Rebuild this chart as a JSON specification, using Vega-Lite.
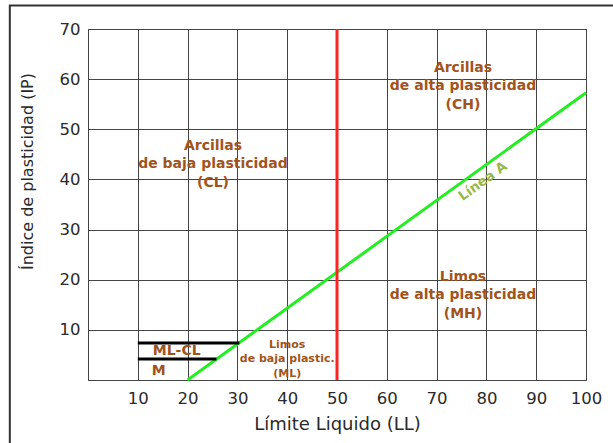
{
  "$schema": "https://vega.github.io/schema/vega-lite/v6.json",
  "width": 498,
  "height": 351,
  "autosize": {"type": "none"},
  "padding": {"left": 88, "top": 29, "right": 27, "bottom": 63},
  "background": "white",
  "config": {
    "font": "DejaVu Sans",
    "view": {"stroke": "#555", "strokeWidth": 1},
    "axis": {"grid": true, "gridColor": "#444", "gridOpacity": 1, "gridWidth": 1, "ticks": false, "domain": false, "labelFont": "DejaVu Sans", "labelFontSize": 16.5, "labelColor": "#2a2a2a", "labelFlush": false, "titleFont": "DejaVu Sans", "titleFontWeight": "normal", "titleColor": "#2a2a2a"}
  },
  "datasets": {
    "lineA": [{"LL": 20, "IP": 0}, {"LL": 100, "IP": 57.3}],
    "mlcl": [
      {"y": 7.4, "x1": 10, "x2": 30.4},
      {"y": 4.2, "x1": 10, "x2": 25.8}
    ],
    "labels": [
      {"x": 25.1, "y": 46.6, "t": "Arcillas"},
      {"x": 25.1, "y": 43.0, "t": "de baja plasticidad"},
      {"x": 25.1, "y": 39.3, "t": "(CL)"},
      {"x": 75.3, "y": 62.3, "t": "Arcillas"},
      {"x": 75.3, "y": 58.6, "t": "de alta plasticidad"},
      {"x": 75.3, "y": 54.9, "t": "(CH)"},
      {"x": 75.3, "y": 20.6, "t": "Limos"},
      {"x": 75.3, "y": 16.9, "t": "de alta plasticidad"},
      {"x": 75.3, "y": 13.2, "t": "(MH)"},
      {"x": 17.8, "y": 5.8, "t": "ML-CL"},
      {"x": 14.2, "y": 1.8, "t": "M"}
    ],
    "small": [
      {"x": 40, "y": 7.0, "t": "Limos"},
      {"x": 40, "y": 4.2, "t": "de baja plastic."},
      {"x": 40, "y": 1.2, "t": "(ML)"}
    ],
    "lineLabel": [{"x": 79.3, "y": 39.6, "t": "Línea A"}]
  },
  "layer": [
    {
      "data": {"values": [{"a": 1}]},
      "mark": {"type": "rect", "fill": null, "stroke": "#333", "strokeWidth": 2, "clip": false},
      "encoding": {
        "x": {"datum": -15.7, "type": "quantitative", "scale": {"domain": [0, 100], "nice": false}},
        "x2": {"datum": 140},
        "y": {"datum": 74.7, "type": "quantitative", "scale": {"domain": [0, 70], "nice": false}},
        "y2": {"datum": -40}
      }
    },
    {
      "data": {"name": "lineA"},
      "mark": {"type": "line", "color": "#22ee22", "strokeWidth": 3},
      "encoding": {
        "x": {"field": "LL", "type": "quantitative", "scale": {"domain": [0, 100], "nice": false}, "axis": {"values": [0,10,20,30,40,50,60,70,80,90,100], "labelExpr": "datum.value == 0 ? '' : datum.label", "title": "Límite Liquido (LL)", "labelPadding": 10, "titleFontSize": 18, "titleY": 49, "titleBaseline": "alphabetic"}},
        "y": {"field": "IP", "type": "quantitative", "scale": {"domain": [0, 70], "nice": false}, "axis": {"values": [0,10,20,30,40,50,60,70], "labelExpr": "datum.value == 0 ? '' : datum.label", "title": "Índice de plasticidad (IP)", "labelPadding": 8, "titleFontSize": 16, "titleX": -61, "titleY": 142, "titleAngle": -90, "titleAlign": "center", "titleBaseline": "middle"}}
      }
    },
    {
      "data": {"values": [{"LL": 50, "a": 0, "b": 70}]},
      "mark": {"type": "rule", "color": "#ff2222", "strokeWidth": 3},
      "encoding": {
        "x": {"field": "LL", "type": "quantitative"},
        "y": {"field": "a", "type": "quantitative"},
        "y2": {"field": "b"}
      }
    },
    {
      "data": {"name": "mlcl"},
      "mark": {"type": "rule", "color": "#000", "strokeWidth": 3},
      "encoding": {
        "x": {"field": "x1", "type": "quantitative"},
        "x2": {"field": "x2"},
        "y": {"field": "y", "type": "quantitative"}
      }
    },
    {
      "data": {"name": "labels"},
      "mark": {"type": "text", "color": "#a0541c", "fontWeight": "bold", "fontSize": 14, "align": "center", "baseline": "middle"},
      "encoding": {
        "x": {"field": "x", "type": "quantitative"},
        "y": {"field": "y", "type": "quantitative"},
        "text": {"field": "t"}
      }
    },
    {
      "data": {"name": "small"},
      "mark": {"type": "text", "color": "#a0541c", "fontWeight": "bold", "fontSize": 11, "align": "center", "baseline": "middle"},
      "encoding": {
        "x": {"field": "x", "type": "quantitative"},
        "y": {"field": "y", "type": "quantitative"},
        "text": {"field": "t"}
      }
    },
    {
      "data": {"name": "lineLabel"},
      "mark": {"type": "text", "color": "#9ab84a", "fontWeight": "bold", "fontSize": 13.5, "angle": -36, "align": "center", "baseline": "middle"},
      "encoding": {
        "x": {"field": "x", "type": "quantitative"},
        "y": {"field": "y", "type": "quantitative"},
        "text": {"field": "t"}
      }
    }
  ]
}
